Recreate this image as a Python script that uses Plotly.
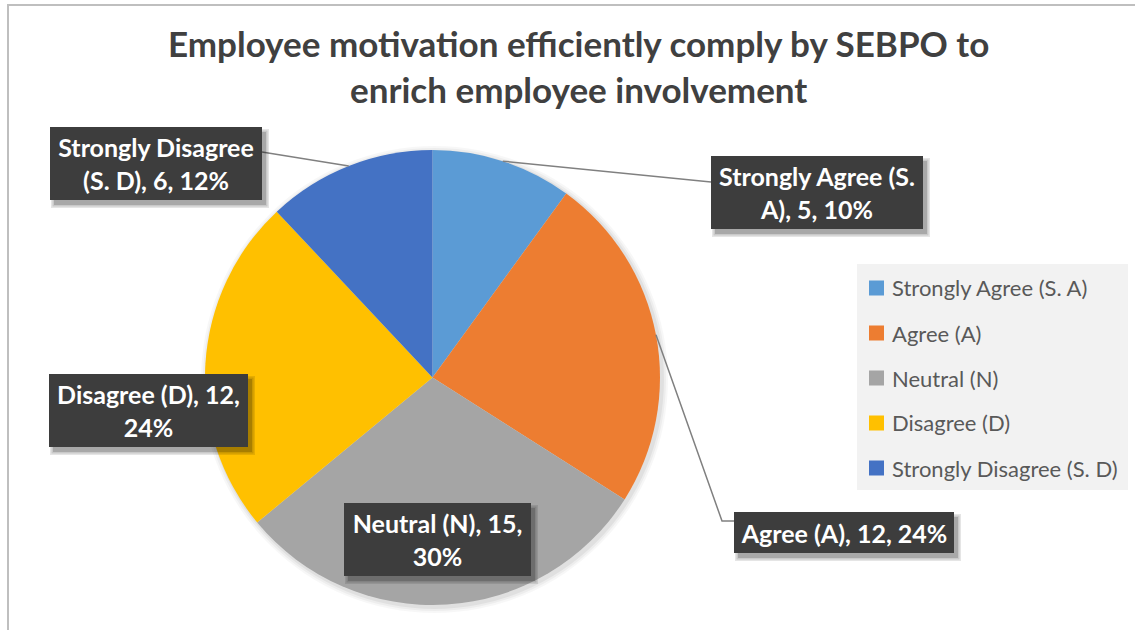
import math
import plotly.graph_objects as go

# ---------------- data ----------------
categories = ["Strongly Agree (S. A)", "Agree (A)", "Neutral (N)", "Disagree (D)", "Strongly Disagree (S. D)"]
counts = [5, 12, 15, 12, 6]
percents = [10, 24, 30, 24, 12]
label_texts = [
    "Strongly Agree (S.<br>A), 5, 10%",
    "Agree (A), 12, 24%",
    "Neutral (N), 15,<br>30%",
    "Disagree (D), 12,<br>24%",
    "Strongly Disagree<br>(S. D), 6, 12%",
]
colors = ["#5B9BD5", "#ED7D31", "#A5A5A5", "#FFC000", "#4472C4"]
title_text = "Employee motivation efficiently comply by SEBPO to<br>enrich employee involvement"

W, H = 1135, 630
def px(x):
    return x / W
def py(y):
    return 1 - y / H

# pie geometry (pixels)
cx, cy, R = 432.5, 377.5, 227.5

fig = go.Figure()
fig.add_trace(go.Pie(
    labels=categories, values=counts, sort=False, direction="clockwise", rotation=0,
    marker=dict(colors=colors, line=dict(width=0)),
    textinfo="none", hoverinfo="label+value+percent", showlegend=False,
    domain=dict(x=[px(cx - R), px(cx + R)], y=[py(cy + R), py(cy - R)]),
))

shapes = []
annotations = []

# chart border
shapes.append(dict(type="rect", xref="paper", yref="paper", x0=px(8), y0=py(5), x1=px(W + 10), y1=py(H + 10),
                   line=dict(color="#BFBFBF", width=2), fillcolor="rgba(0,0,0,0)", layer="below"))

# faint shadow around the pie
for k, a in [(6, 0.03), (4, 0.04), (2, 0.05)]:
    shapes.append(dict(type="circle", xref="paper", yref="paper",
                       x0=px(cx - R - k + 2), x1=px(cx + R + k + 2),
                       y0=py(cy + R + k + 2), y1=py(cy - R - k + 2),
                       line=dict(width=0), fillcolor=f"rgba(0,0,0,{a})", layer="below"))

# data-label boxes (center x, center y, width, height) in pixels
boxes = [
    (817, 192.5, 212, 73),
    (844, 532.5, 220, 41),
    (437.5, 539.5, 187, 73),
    (148.5, 410.5, 199, 73),
    (156, 163.5, 212, 73),
]
# leader-line anchor points on the label boxes (None = no leader)
anchors = [
    [(711, 182)],
    [(722, 521), (734, 521)],
    None,
    None,
    [(262, 152)],
]

total = sum(counts)
cum = 0
for i, v in enumerate(counts):
    mid = (cum + v / 2) / total * 2 * math.pi
    cum += v
    ex, ey = cx + R * math.sin(mid), cy - R * math.cos(mid)
    if anchors[i]:
        pts = [(ex, ey)] + anchors[i]
        path = "M " + " L ".join(f"{px(a)},{py(b)}" for a, b in pts)
        shapes.append(dict(type="path", xref="paper", yref="paper", path=path,
                           line=dict(color="#808080", width=1.5), layer="above"))

for i, (bx, by, bw, bh) in enumerate(boxes):
    # soft shadow
    for k, a in [(3, 0.10), (1.5, 0.12), (0, 0.16)]:
        shapes.append(dict(type="rect", xref="paper", yref="paper",
                           x0=px(bx - bw / 2 + 4 - k), x1=px(bx + bw / 2 + 4 + k),
                           y0=py(by + bh / 2 + 5 + k), y1=py(by - bh / 2 + 5 - k),
                           line=dict(width=0), fillcolor=f"rgba(0,0,0,{a})", layer="above"))
    annotations.append(dict(
        x=px(bx), y=py(by), xref="paper", yref="paper", xanchor="center", yanchor="middle",
        text=label_texts[i], showarrow=False, width=bw, height=bh, borderpad=0, borderwidth=0,
        bgcolor="#3D3D3D", align="center", valign="middle",
        font=dict(family="Lato", size=25, color="#FFFFFF", weight="bold"),
    ))

# legend (manual, for Excel-like spacing)
shapes.append(dict(type="rect", xref="paper", yref="paper", x0=px(857), x1=px(1128), y0=py(490), y1=py(264),
                   line=dict(width=0), fillcolor="#F2F2F2", layer="below"))
leg_y0, leg_dy = 288, 45
for i, cat in enumerate(categories):
    yy = leg_y0 + i * leg_dy
    shapes.append(dict(type="rect", xref="paper", yref="paper", x0=px(869), x1=px(884), y0=py(yy + 7.5), y1=py(yy - 7.5),
                       line=dict(width=0), fillcolor=colors[i], layer="above"))
    annotations.append(dict(x=px(890), y=py(yy), xref="paper", yref="paper", xanchor="left", yanchor="middle",
                            text=cat, showarrow=False, font=dict(family="Lato", size=22, color="#595959")))

# title
annotations.append(dict(x=px(578), y=py(66), xref="paper", yref="paper", xanchor="center", yanchor="middle",
                        text=title_text, showarrow=False, align="center",
                        font=dict(family="Lato", size=35, color="#404040", weight="bold")))

fig.update_layout(
    width=W, height=H, margin=dict(l=0, r=0, t=0, b=0),
    paper_bgcolor="#FFFFFF", plot_bgcolor="#FFFFFF",
    shapes=shapes, annotations=annotations, showlegend=False,
)
fig.write_html("out.html", config={"displayModeBar": False},
               post_script="document.body.style.margin='0';")
